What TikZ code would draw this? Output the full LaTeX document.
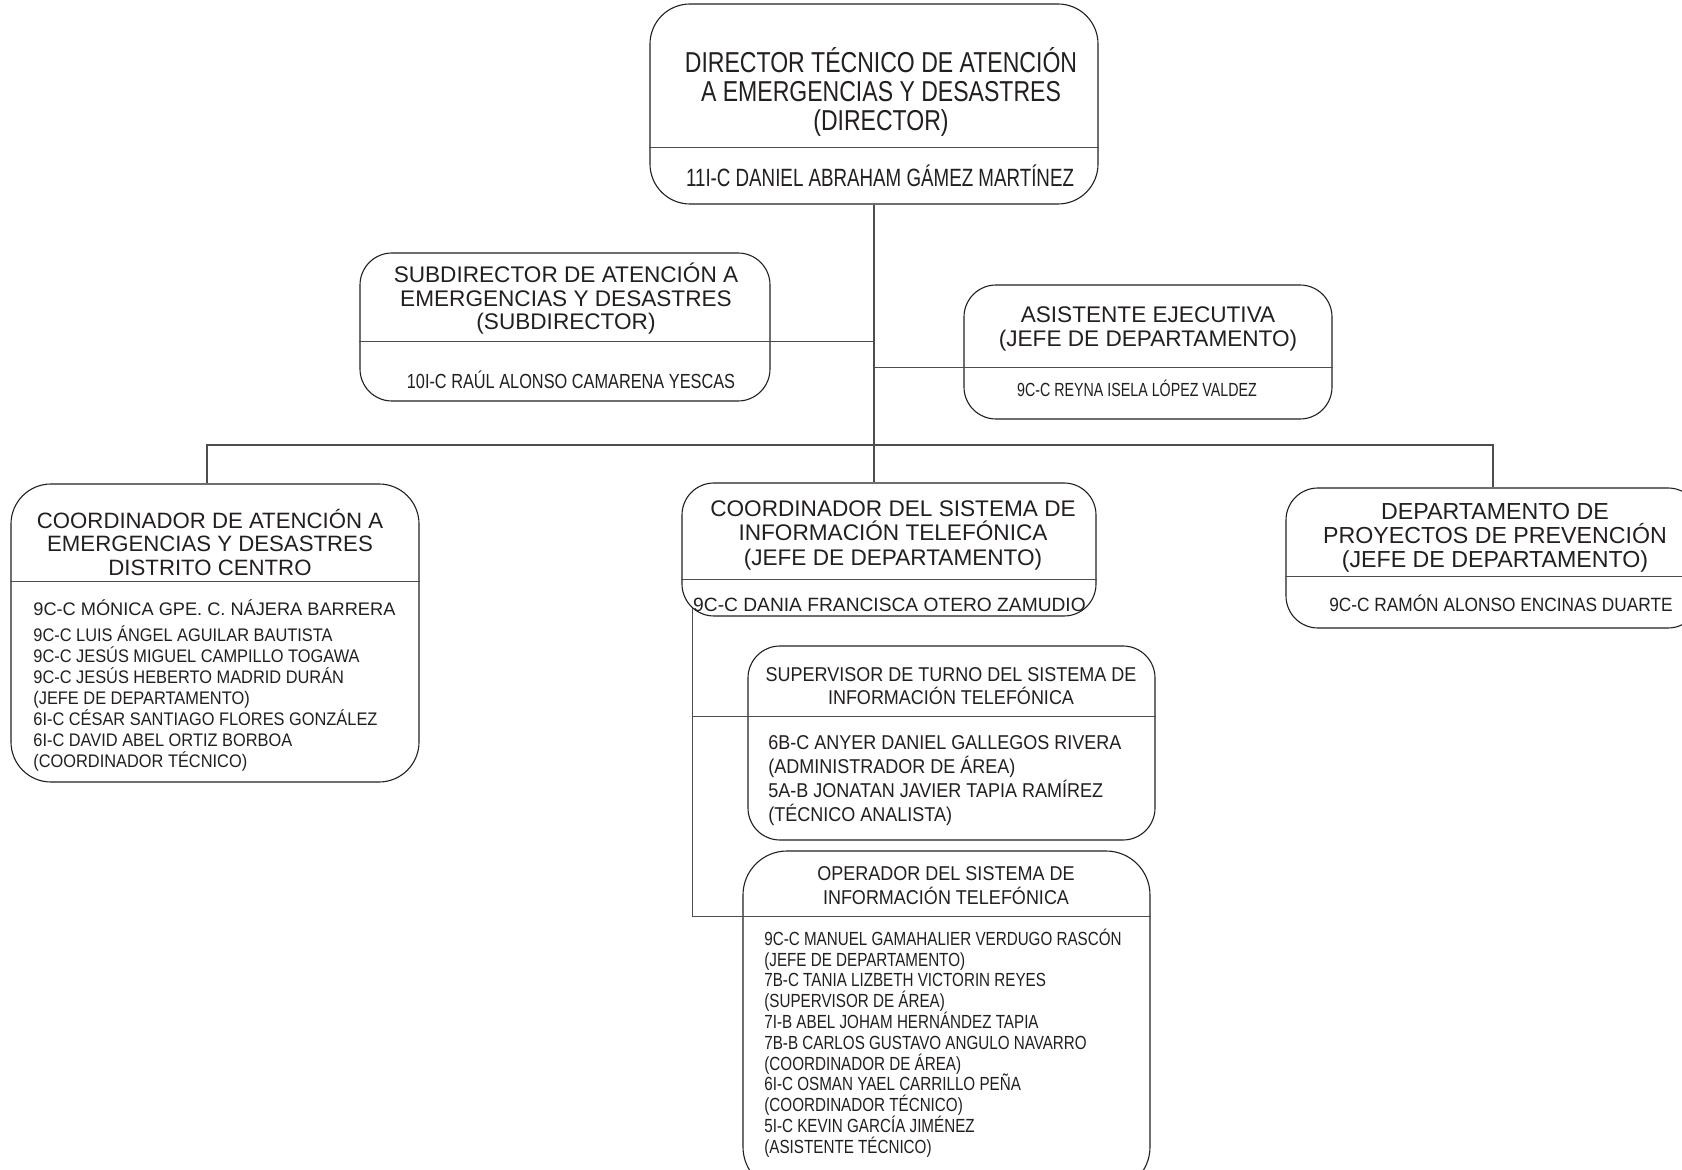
\documentclass[tikz,border=0pt]{standalone}
\usepackage{fontspec}
\setmainfont{Liberation Sans}
\newfontfamily\fA{Liberation Sans}
\newfontfamily\fB{Liberation Sans}[FakeStretch=0.9]
\newfontfamily\fC{Liberation Sans}[FakeStretch=0.8]
\newfontfamily\fD{Liberation Sans}[FakeStretch=0.75]
\usetikzlibrary{backgrounds}
\definecolor{ink}{HTML}{231F20}
\definecolor{wire}{HTML}{4D4D4D}
\tikzset{puesto/.style={
    draw=ink, fill=white, rounded corners=16pt,
    line width=0.55pt, inner sep=0pt
  },
  liga/.style={draw=wire, line width=0.55pt},
  titulo/.style={text=ink, align=center, inner sep=0pt},
  nombres/.style={text=ink, align=left, inner sep=0pt, anchor=north west}
}

\begin{document}
\begin{tikzpicture}[x=0.5pt,y=-0.5pt]
  \useasboundingbox (0,0) rectangle (1682,1170);
  \clip (0,0) rectangle (1682,1170);
  % cajas
  \node[puesto, minimum width=224pt, minimum height=100pt, rounded corners=20pt] (dir) at (874,104) {};
  \node[puesto, minimum width=205pt, minimum height=74pt] (subdir) at (565,327) {};
  \node[puesto, minimum width=184pt, minimum height=67pt] (asist) at (1148,352) {};
  \node[puesto, minimum width=204pt, minimum height=149pt, rounded corners=20pt] (distr) at (215,633) {};
  \node[puesto, minimum width=207pt, minimum height=66.5pt] (coord) at (889,549.5) {};
  \node[puesto, minimum width=207pt, minimum height=70pt] (prev) at (1493,558) {};
  \node[puesto, minimum width=203.5pt, minimum height=97pt] (super) at (951.5,743) {};
  \node[puesto, minimum width=203.5pt, minimum height=170pt, rounded corners=22pt] (oper) at (946.5,1021) {};
  \coordinate (dirdiv) at ([yshift=-72pt]dir.north west);
  \coordinate (subdiv) at ([yshift=-44.5pt]subdir.north west);
  \coordinate (asidiv) at ([yshift=-41.5pt]asist.north west);
  \coordinate (distrdiv) at ([yshift=-49pt]distr.north west);
  \coordinate (coorddiv) at ([yshift=-48.5pt]coord.north west);
  \coordinate (prevdiv) at ([yshift=-44.5pt]prev.north west);
  \coordinate (superdiv) at ([yshift=-35.5pt]super.north west);
  \coordinate (operdiv) at ([yshift=-33pt]oper.north west);
  \coordinate (bus) at (207,445);
  \coordinate (rama) at ([xshift=5.5pt]coord.south west);
  % lineas de mando
  \begin{scope}[on background layer]
    \draw[liga] (dir.south) -- (dir.south |- coord.north);
    \draw[liga] (bus |- distr.north) -- (bus) -- (prev.north |- bus) -- (prev.north);
    \draw[liga] ([yshift=8pt]rama) -- (rama |- operdiv);
  \end{scope}
  \draw[liga] (dirdiv) -- (dirdiv -| dir.east);
  \draw[liga] (subdiv) -- (subdiv -| dir.south);
  \draw[liga] (asidiv -| dir.south) -- (asidiv -| asist.east);
  \draw[liga] (distrdiv) -- (distrdiv -| distr.east);
  \draw[liga] (coorddiv) -- (coorddiv -| coord.east);
  \draw[liga] (prevdiv) -- (prevdiv -| prev.east);
  \draw[liga] (superdiv -| rama) -- (superdiv -| super.east);
  \draw[liga] (operdiv -| rama) -- (operdiv -| oper.east);
  % textos
  \node[titulo, font=\fC\fontsize{14.4}{14.5}\selectfont] (dirT) at (881,92) {DIRECTOR TÉCNICO DE ATENCIÓN\\A EMERGENCIAS Y DESASTRES\\(DIRECTOR)};
  \node[titulo, font=\fD\fontsize{12.5}{14}\selectfont] (dirN) at (880,176) {11I-C DANIEL ABRAHAM GÁMEZ MARTÍNEZ};
  \node[titulo, font=\fA\fontsize{11.3}{11.75}\selectfont] (subT) at (566,299) {SUBDIRECTOR DE ATENCIÓN A\\EMERGENCIAS Y DESASTRES\\(SUBDIRECTOR)};
  \node[titulo, font=\fC\fontsize{10.2}{12}\selectfont] (subN) at (571,380) {10I-C RAÚL ALONSO CAMARENA YESCAS};
  \node[titulo, font=\fA\fontsize{11.3}{12}\selectfont] (asiT) at (1148,329) {ASISTENTE EJECUTIVA\\(JEFE DE DEPARTAMENTO)};
  \node[titulo, font=\fD\fontsize{9.5}{11}\selectfont] (asiN) at (1137,388) {9C-C REYNA ISELA LÓPEZ VALDEZ};
  \node[titulo, font=\fA\fontsize{11.1}{11.75}\selectfont] (distrT) at (210,542) {COORDINADOR DE ATENCIÓN A\\EMERGENCIAS Y DESASTRES\\DISTRITO CENTRO};
  \node[nombres, font=\fA\fontsize{9.1}{10.45}\selectfont] (distrN1) at (33,599) {9C-C MÓNICA GPE. C. NÁJERA BARRERA};
  \node[nombres, font=\fB\fontsize{9.1}{10.5}\selectfont] (distrN) at (33,625) {9C-C LUIS ÁNGEL AGUILAR BAUTISTA\\9C-C JESÚS MIGUEL CAMPILLO TOGAWA\\9C-C JESÚS HEBERTO MADRID DURÁN\\(JEFE DE DEPARTAMENTO)\\6I-C CÉSAR SANTIAGO FLORES GONZÁLEZ\\6I-C DAVID ABEL ORTIZ BORBOA\\(COORDINADOR TÉCNICO)};
  \node[titulo, font=\fA\fontsize{11.3}{12.25}\selectfont] (coordT) at (893,535) {COORDINADOR DEL SISTEMA DE\\INFORMACIÓN TELEFÓNICA\\(JEFE DE DEPARTAMENTO)};
  \node[titulo, font=\fA\fontsize{9.6}{11}\selectfont] (coordN) at (889.5,605) {9C-C DANIA FRANCISCA OTERO ZAMUDIO};
  \node[titulo, font=\fA\fontsize{11.6}{12}\selectfont] (prevT) at (1495,538) {DEPARTAMENTO DE\\PROYECTOS DE PREVENCIÓN\\(JEFE DE DEPARTAMENTO)};
  \node[titulo, font=\fB\fontsize{9.6}{11}\selectfont] (prevN) at (1501,603) {9C-C RAMÓN ALONSO ENCINAS DUARTE};
  \node[titulo, font=\fB\fontsize{10}{11.5}\selectfont] (superT) at (951,686.5) {SUPERVISOR DE TURNO DEL SISTEMA DE\\INFORMACIÓN TELEFÓNICA};
  \node[nombres, font=\fB\fontsize{10}{12}\selectfont] (superN) at (768,735) {6B-C ANYER DANIEL GALLEGOS RIVERA\\(ADMINISTRADOR DE ÁREA)\\5A-B JONATAN JAVIER TAPIA RAMÍREZ\\(TÉCNICO ANALISTA)};
  \node[titulo, font=\fB\fontsize{10}{12}\selectfont] (operT) at (946,886) {OPERADOR DEL SISTEMA DE\\INFORMACIÓN TELEFÓNICA};
  \node[nombres, font=\fC\fontsize{9.5}{10.4}\selectfont] (operN) at (764,928.5) {9C-C MANUEL GAMAHALIER VERDUGO RASCÓN\\(JEFE DE DEPARTAMENTO)\\7B-C TANIA LIZBETH VICTORIN REYES\\(SUPERVISOR DE ÁREA)\\7I-B ABEL JOHAM HERNÁNDEZ TAPIA\\7B-B CARLOS GUSTAVO ANGULO NAVARRO\\(COORDINADOR DE ÁREA)\\6I-C OSMAN YAEL CARRILLO PEÑA\\(COORDINADOR TÉCNICO)\\5I-C KEVIN GARCÍA JIMÉNEZ\\(ASISTENTE TÉCNICO)};
\end{tikzpicture}
\end{document}
